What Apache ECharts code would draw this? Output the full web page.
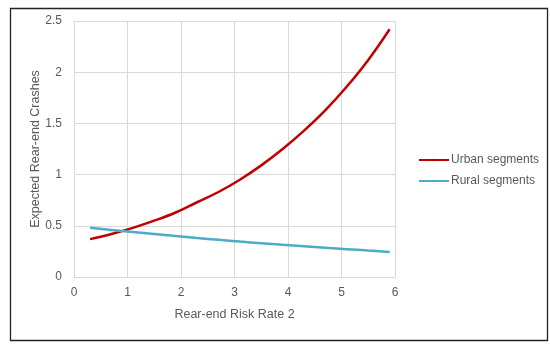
<!DOCTYPE html>
<html>
<head>
<meta charset="utf-8">
<script src="https://cdn.jsdelivr.net/npm/echarts@6/dist/echarts.min.js"></script>
<style>html,body{margin:0;padding:0;background:#fff}#c{width:550px;height:345px}</style>
</head>
<body>
<div id="c"></div>
<script>
const xValues = [0.3, 0.7, 1.1, 1.5, 1.9, 2.3, 2.7, 3.1, 3.5, 3.9, 4.3, 4.7, 5.1, 5.5, 5.9];
const urban = [0.37, 0.42, 0.48, 0.55, 0.63, 0.73, 0.83, 0.95, 1.09, 1.25, 1.43, 1.63, 1.86, 2.12, 2.42];
const rural = [0.48, 0.46, 0.44, 0.42, 0.40, 0.38, 0.363, 0.346, 0.33, 0.314, 0.30, 0.286, 0.272, 0.258, 0.245];
const seriesNames = ['Urban segments', 'Rural segments'];
const xTitle = 'Rear-end Risk Rate 2';
const yTitle = 'Expected Rear-end Crashes';

const font = 'Liberation Sans, Arial, sans-serif';
const txt = '#595959';
const chart = echarts.init(document.getElementById('c'), null, {renderer: 'canvas'});
chart.setOption({
  animation: false,
  backgroundColor: '#fff',
  grid: {left: 74, right: 155, top: 21, bottom: 68, containLabel: false},
  graphic: [{
    type: 'rect', left: 8, top: 6,
    shape: {width: 537, height: 332},
    style: {fill: 'none', stroke: '#222', lineWidth: 1.3}
  }],
  legend: {
    orient: 'vertical', left: 418, top: 154, padding: 0,
    itemWidth: 30, itemHeight: 3, itemGap: 9,
    textStyle: {fontFamily: font, fontSize: 12, color: txt, padding: [0, 0, 0, -3]},
    data: seriesNames
  },
  xAxis: {
    type: 'value', min: 0, max: 6, interval: 1,
    name: xTitle, nameLocation: 'middle', nameGap: 31, nameMoveOverlap: false,
    nameTextStyle: {fontFamily: font, fontSize: 12.5, color: txt},
    axisLine: {show: true, lineStyle: {color: '#d9d9d9'}},
    axisTick: {show: false},
    axisLabel: {fontFamily: font, fontSize: 12, color: txt, margin: 10},
    splitLine: {show: true, lineStyle: {color: '#d9d9d9'}}
  },
  yAxis: {
    type: 'value', min: 0, max: 2.5, interval: 0.5,
    name: yTitle, nameLocation: 'middle', nameGap: 32, nameMoveOverlap: false,
    nameTextStyle: {fontFamily: font, fontSize: 12.5, color: txt},
    axisLine: {show: true, lineStyle: {color: '#d9d9d9'}},
    axisTick: {show: false},
    axisLabel: {fontFamily: font, fontSize: 12, color: txt, margin: 12},
    splitLine: {show: true, lineStyle: {color: '#d9d9d9'}}
  },
  series: [
    {name: seriesNames[0], type: 'line', smooth: 0.4, symbol: 'none',
     lineStyle: {color: '#C00000', width: 2.5}, itemStyle: {color: '#C00000'},
     data: xValues.map((x, i) => [x, urban[i]])},
    {name: seriesNames[1], type: 'line', smooth: 0.4, symbol: 'none',
     lineStyle: {color: '#4BACC6', width: 2.5}, itemStyle: {color: '#4BACC6'},
     data: xValues.map((x, i) => [x, rural[i]])}
  ]
});
</script>
</body>
</html>
